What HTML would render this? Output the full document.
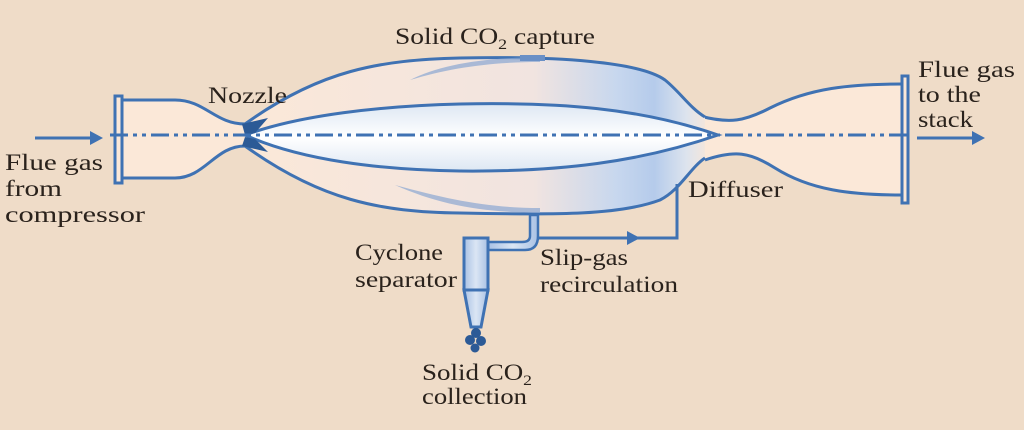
<!DOCTYPE html>
<html><head><meta charset="utf-8"><style>
html,body{margin:0;padding:0;background:#efdcc8;}
svg{display:block}
text{font-family:"Liberation Serif",serif;font-size:23px;fill:#2a221c}
</style></head><body>
<svg width="1024" height="430" viewBox="0 0 1024 430">
<defs>
<linearGradient id="g1" x1="245" x2="710" y1="0" y2="0" gradientUnits="userSpaceOnUse">
<stop offset="0" stop-color="#fbe8d8"/><stop offset="0.62" stop-color="#f1e4e0"/><stop offset="0.8" stop-color="#c7d7ee"/><stop offset="0.88" stop-color="#b5cbeb"/><stop offset="0.95" stop-color="#dde4ee"/><stop offset="1" stop-color="#f8e6d8"/>
</linearGradient>
<linearGradient id="g2" x1="0" x2="0" y1="0" y2="1">
<stop offset="0" stop-color="#dde7f3"/><stop offset="0.5" stop-color="#ffffff"/><stop offset="1" stop-color="#dde7f3"/>
</linearGradient>
<linearGradient id="g3" x1="0" x2="1"><stop offset="0" stop-color="#a9c1e4"/><stop offset="0.5" stop-color="#dbe6f4"/><stop offset="1" stop-color="#a9c1e4"/></linearGradient>
</defs>
<path d="M122,100 L175,100 C205,100 215,124 245,124 L245,146 C215,146 205,178 175,178 L122,178 Z" fill="#fbe8d8"/>
<path d="M122,100 L175,100 C205,100 215,124 245,124 M122,178 L175,178 C205,178 215,146 245,146" fill="none" stroke="#3f72b3" stroke-width="3"/>
<path d="M700,116 C730,124 745,121 770,108 C810,88 850,84 902,84 L902,195 C850,195 810,190 775,168 C750,152 735,150 705,160 Z" fill="#fbe8d8"/>
<path d="M700,116 C730,124 745,121 770,108 C810,88 850,84 902,84 M705,160 C735,150 750,152 775,168 C810,190 850,195 902,195" fill="none" stroke="#3f72b3" stroke-width="3"/>
<path d="M245,124 C320,70 380,60 460,58 C560,56 640,62 665,80 C680,92 690,108 705,117 L705,158 C690,168 680,190 660,200 C620,215 560,215 460,213 C380,212 320,200 245,146 Z" fill="url(#g1)"/>
<path d="M245,124 C320,70 380,60 460,58 C560,56 640,62 665,80 C680,92 690,108 705,117 M705,158 C690,168 680,190 660,200 C620,215 560,215 460,213 C380,212 320,200 245,146" fill="none" stroke="#3f72b3" stroke-width="3"/>
<path d="M245,135 C300,115 380,106 460,104 C560,102 640,108 718,135 C640,162 560,172 460,171 C380,170 300,160 245,135 Z" fill="url(#g2)" stroke="#3f72b3" stroke-width="3"/>
<path d="M242,124 L268,118 L255,133 L245,135 Z" fill="#2c5a96"/>
<path d="M242,146 L268,152 L255,139 L245,137 Z" fill="#2c5a96"/>
<g fill="#8aa6d2" opacity="0.7">
<path d="M410,80 C440,65 480,58 540,57 L540,62 C490,62 450,68 410,80 Z"/>
<path d="M395,185 C440,205 480,212 540,213 L540,208 C490,208 450,200 395,185 Z"/>
</g>
<rect x="520" y="55" width="25" height="6" fill="#6a90c6"/>
<rect x="115" y="96" width="7" height="87" fill="#fbe8d8" stroke="#3f72b3" stroke-width="3"/>
<rect x="902" y="76" width="6" height="127" fill="#fbe8d8" stroke="#3f72b3" stroke-width="3"/>
<line x1="110" y1="135" x2="910" y2="135" stroke="#3f72b3" stroke-width="3" stroke-dasharray="18,5,4,5,4,5"/>
<line x1="35" y1="138" x2="92" y2="138" stroke="#3f72b3" stroke-width="3"/>
<path d="M90,131 L103,138 L90,145 Z" fill="#3f72b3"/>
<line x1="917" y1="138" x2="974" y2="138" stroke="#3f72b3" stroke-width="3"/>
<path d="M972,131 L985,138 L972,145 Z" fill="#3f72b3"/>
<path d="M537,238 L677,238 L677,184" fill="none" stroke="#3f72b3" stroke-width="3"/>
<path d="M627,231 L640,238 L627,245 Z" fill="#3f72b3"/>
<path d="M530,215 L530,236 Q530,242 522,242 L488,242 L488,250 L525,250 Q538,250 538,236 L538,215 Z" fill="url(#g3)" stroke="#3f72b3" stroke-width="2.5"/>
<rect x="464" y="238" width="24" height="52" fill="url(#g3)" stroke="#3f72b3" stroke-width="3"/>
<path d="M464,290 L488,290 L481,327 L471,327 Z" fill="url(#g3)" stroke="#3f72b3" stroke-width="3"/>
<g fill="#2c5a96"><circle cx="476" cy="333" r="5"/><circle cx="470" cy="340" r="5"/><circle cx="481" cy="341" r="5"/><circle cx="475" cy="348" r="4.5"/></g>
<text x="395" y="44" textLength="200" lengthAdjust="spacingAndGlyphs">Solid CO<tspan font-size="15" dy="5">2</tspan><tspan dy="-5"> capture</tspan></text>
<text x="208" y="103" textLength="79" lengthAdjust="spacingAndGlyphs">Nozzle</text>
<text x="5" y="170" textLength="98" lengthAdjust="spacingAndGlyphs">Flue gas</text>
<text x="5" y="196" textLength="57" lengthAdjust="spacingAndGlyphs">from</text>
<text x="5" y="222" textLength="140" lengthAdjust="spacingAndGlyphs">compressor</text>
<text x="918" y="77" textLength="97" lengthAdjust="spacingAndGlyphs">Flue gas</text>
<text x="918" y="102" textLength="63" lengthAdjust="spacingAndGlyphs">to the</text>
<text x="918" y="127" textLength="55" lengthAdjust="spacingAndGlyphs">stack</text>
<text x="688" y="197" textLength="95" lengthAdjust="spacingAndGlyphs">Diffuser</text>
<text x="355" y="260" textLength="88" lengthAdjust="spacingAndGlyphs">Cyclone</text>
<text x="355" y="287" textLength="102" lengthAdjust="spacingAndGlyphs">separator</text>
<text x="540" y="265" textLength="88" lengthAdjust="spacingAndGlyphs">Slip-gas</text>
<text x="540" y="292" textLength="138" lengthAdjust="spacingAndGlyphs">recirculation</text>
<text x="422" y="380" textLength="110" lengthAdjust="spacingAndGlyphs">Solid CO<tspan font-size="15" dy="5">2</tspan></text>
<text x="422" y="404" textLength="105" lengthAdjust="spacingAndGlyphs">collection</text>
</svg>
</body></html>
